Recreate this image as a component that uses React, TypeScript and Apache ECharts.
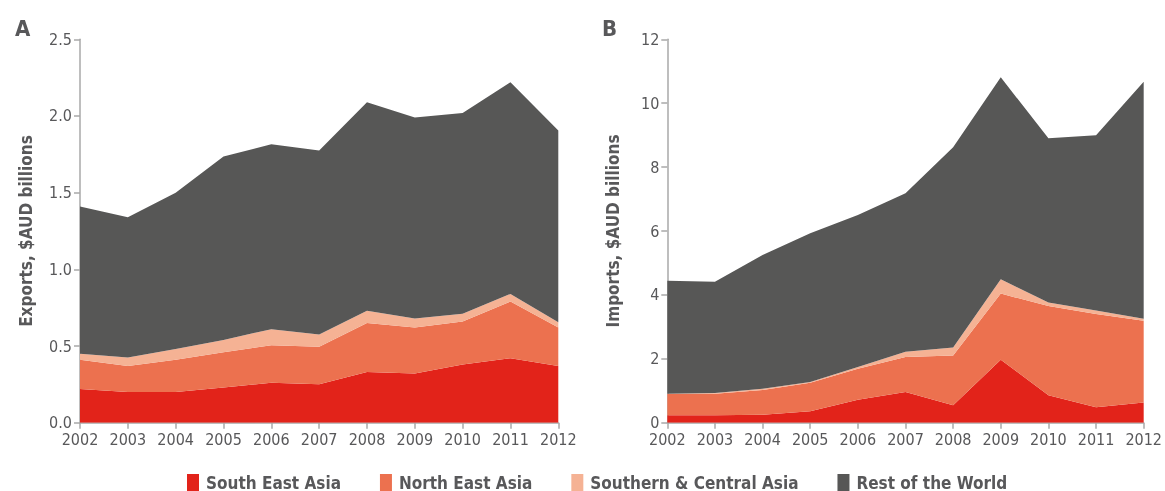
import React, { useEffect, useRef } from "react";
import * as echarts from "echarts";

const years = ["2002", "2003", "2004", "2005", "2006", "2007", "2008", "2009", "2010", "2011", "2012"];
const seriesNames = ["South East Asia", "North East Asia", "Southern & Central Asia", "Rest of the World"];
const colors = ["#E2231A", "#EC714F", "#F5B294", "#575756"];

// Panel A: Exports, $AUD billions
const exportsSEA = [0.22, 0.2, 0.2, 0.23, 0.26, 0.25, 0.33, 0.32, 0.38, 0.42, 0.37];
const exportsNEA = [0.19, 0.17, 0.21, 0.23, 0.245, 0.245, 0.32, 0.3, 0.28, 0.37, 0.25];
const exportsSCA = [0.04, 0.055, 0.07, 0.08, 0.105, 0.08, 0.08, 0.06, 0.05, 0.05, 0.035];
const exportsRest = [0.96, 0.915, 1.02, 1.195, 1.205, 1.2, 1.36, 1.31, 1.31, 1.38, 1.25];

// Panel B: Imports, $AUD billions
const importsSEA = [0.23, 0.23, 0.25, 0.36, 0.72, 0.96, 0.55, 1.97, 0.86, 0.48, 0.63];
const importsNEA = [0.67, 0.68, 0.77, 0.89, 0.97, 1.1, 1.55, 2.07, 2.79, 2.92, 2.56];
const importsSCA = [0.01, 0.02, 0.04, 0.02, 0.05, 0.16, 0.25, 0.45, 0.11, 0.11, 0.06];
const importsRest = [3.53, 3.48, 4.19, 4.66, 4.76, 4.96, 6.27, 6.32, 5.14, 5.49, 7.42];

const FONT = "'Liberation Sans Narrow', 'DejaVu Sans Condensed', Roboto, sans-serif";
const TEXT = "#58585a";
const AXIS = "#a8a8a8";

export default function App() {
  const ref = useRef<HTMLDivElement>(null);
  useEffect(() => {
    if (!ref.current) return;
    const chart = echarts.init(ref.current, undefined, { renderer: "svg" });
    const exportsData = [exportsSEA, exportsNEA, exportsSCA, exportsRest];
    const importsData = [importsSEA, importsNEA, importsSCA, importsRest];

    const mkX = (gridIndex: number) => ({
      type: "category",
      gridIndex,
      data: years,
      boundaryGap: false,
      axisLine: { show: true, lineStyle: { color: AXIS, width: 1.5 } },
      axisTick: { show: true, length: 6, interval: 0, alignWithLabel: true, lineStyle: { color: AXIS, width: 1.5 } },
      axisLabel: { color: TEXT, fontSize: 16, fontFamily: FONT, margin: 9, interval: 0 },
      splitLine: { show: false },
    });
    const mkY = (gridIndex: number, max: number, interval: number, name: string, dec: number) => ({
      type: "value",
      gridIndex,
      min: 0,
      max,
      interval,
      name,
      nameLocation: "middle",
      nameGap: 46,
      nameTextStyle: { color: TEXT, fontSize: 17, fontWeight: "bold", fontFamily: FONT },
      axisLine: { show: true, lineStyle: { color: AXIS, width: 1.5 } },
      axisTick: { show: true, length: 6, lineStyle: { color: AXIS, width: 1.5 } },
      axisLabel: { color: TEXT, fontSize: 16, fontFamily: FONT, margin: 8, formatter: (v: number) => v.toFixed(dec) },
      splitLine: { show: false },
    });

    const mkSeries = (data: number[][], idx: number) =>
      data.map((d, i) => ({
        name: seriesNames[i],
        type: "line",
        stack: "s" + idx,
        xAxisIndex: idx,
        yAxisIndex: idx,
        data: d,
        showSymbol: false,
        symbol: "none",
        lineStyle: { width: 0 },
        itemStyle: { color: colors[i] },
        areaStyle: { color: colors[i], opacity: 1 },
        z: 2,
      }));

    chart.setOption({
      animation: false,
      textStyle: { fontFamily: FONT },
      title: [
        { text: "A", left: 10, top: 12, textStyle: { fontSize: 22, fontWeight: "bold", color: TEXT, fontFamily: FONT } },
        { text: "B", left: 597, top: 12, textStyle: { fontSize: 22, fontWeight: "bold", color: TEXT, fontFamily: FONT } },
      ],
      grid: [
        { left: 80, top: 39.3, width: 478.3, height: 383.4 },
        { left: 667.3, top: 39.3, width: 478.7, height: 383.4 },
      ],
      xAxis: [mkX(0), mkX(1)],
      yAxis: [mkY(0, 2.5, 0.5, "Exports, $AUD billions", 1), mkY(1, 12, 2, "Imports, $AUD billions", 0)],
      legend: {
        data: seriesNames,
        left: 187,
        top: 474,
        padding: 0,
        icon: "rect",
        itemWidth: 12,
        itemHeight: 17,
        itemGap: 39,
        textStyle: { color: TEXT, fontSize: 17, fontWeight: "bold", fontFamily: FONT, padding: [0, 0, 0, 2] },
      },
      series: [...mkSeries(exportsData, 0), ...mkSeries(importsData, 1)],
    });
    return () => chart.dispose();
  }, []);
  return <div ref={ref} style={{ position: "fixed", left: 0, top: 0, width: 1165, height: 491 }} />;
}
